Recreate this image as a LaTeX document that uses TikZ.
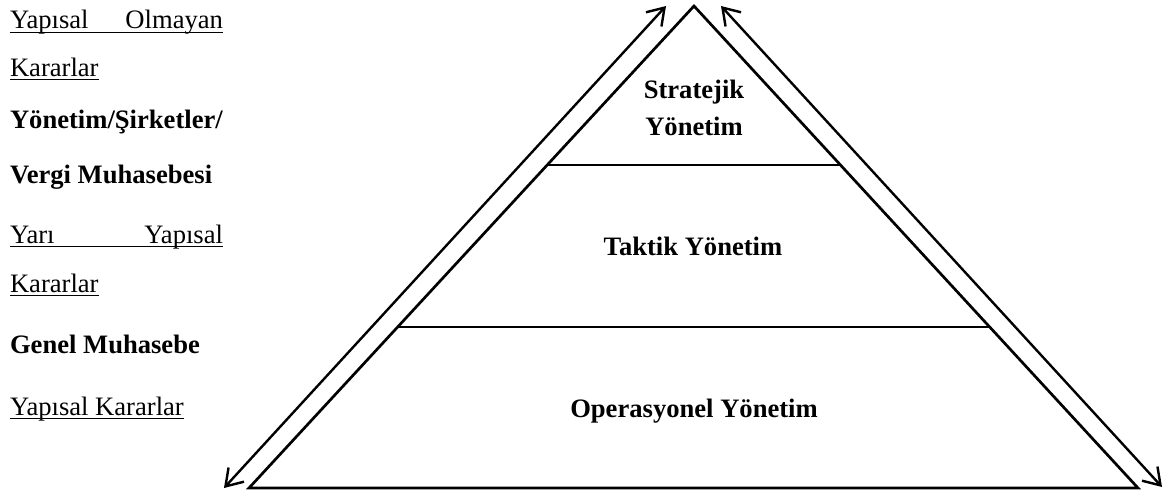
\documentclass[tikz,border=0pt]{standalone}
\usepackage{fontspec}
\setmainfont{Liberation Serif}
\usetikzlibrary{arrows.meta}
\begin{document}
\begin{tikzpicture}[x=1pt,y=-1pt,
  txt/.style={inner sep=0pt,outer sep=0pt,font=\fontsize{26.6}{32}\selectfont},
  lbl/.style={txt,anchor=base west},
  lblr/.style={txt,anchor=base east},
  boldlbl/.style={lbl,font=\fontsize{26.6}{32}\selectfont\bfseries},
  head/.style={txt,anchor=base,font=\fontsize{26.6}{32}\selectfont\bfseries},
  uline/.style={line width=1.8pt},
  edge/.style={line width=2.7pt,line join=miter},
  dbl/.style={line width=2.4pt,{Straight Barb[length=16pt,width=21pt,line width=2.4pt]}-{Straight Barb[length=16pt,width=21pt,line width=2.4pt]}}]
\useasboundingbox (0,0) rectangle (1169,495);

% left-hand column of labels
\node[lbl]  (l1a) at (10,29)  {Yapısal};
\node[lblr] (l1b) at (223,29) {Olmayan};
\node[lbl]  (l2)  at (10,76)  {Kararlar};
\node[boldlbl] (l3) at (10,128) {Yönetim/Şirketler/};
\node[boldlbl] (l4) at (10,183) {Vergi Muhasebesi};
\node[lbl]  (l5a) at (10,243)  {Yarı};
\node[lblr] (l5b) at (223,243) {Yapısal};
\node[lbl]  (l6)  at (10,292)  {Kararlar};
\node[boldlbl] (l7) at (10,353) {Genel Muhasebe};
\node[lbl]  (l8)  at (10,415)  {Yapısal Kararlar};

% underlines
\draw[uline] ([yshift=-3.5pt]l1a.base west) -- ([yshift=-3.5pt]l1b.base east);
\draw[uline] ([yshift=-3.5pt]l2.base west) -- ([yshift=-3.5pt]l2.base east);
\draw[uline] ([yshift=-3.5pt]l5a.base west) -- ([yshift=-3.5pt]l5b.base east);
\draw[uline] ([yshift=-3.5pt]l6.base west) -- ([yshift=-3.5pt]l6.base east);
\draw[uline] ([yshift=-3.5pt]l8.base west) -- ([yshift=-3.5pt]l8.base east);

% pyramid
\coordinate (apex) at (694,6);
\coordinate (bl) at (249,488);
\coordinate (br) at (1138,488);
\coordinate (s1l) at (547.2,165);
\coordinate (s1r) at (840.5,165);
\coordinate (s2l) at (397.6,327);
\coordinate (s2r) at (989.7,327);
\draw[edge] (apex) -- (bl) -- (br) -- cycle;
\draw[edge] (s1l) -- (s1r);
\draw[edge] (s2l) -- (s2r);

% level names
\node[head] (st1) at (694,98)  {Stratejik};
\node[head] (st2) at (694,135) {Yönetim};
\node[head] (tk)  at (693,255) {Taktik Yönetim};
\node[head] (op)  at (694,417) {Operasyonel Yönetim};

% double-headed arrows along the sides
\coordinate (la1) at (224,488);
\coordinate (la2) at (666,6);
\coordinate (ra1) at (721,6);
\coordinate (ra2) at (1162,487);
\draw[dbl] (la1) -- (la2);
\draw[dbl] (ra1) -- (ra2);
\end{tikzpicture}
\end{document}
